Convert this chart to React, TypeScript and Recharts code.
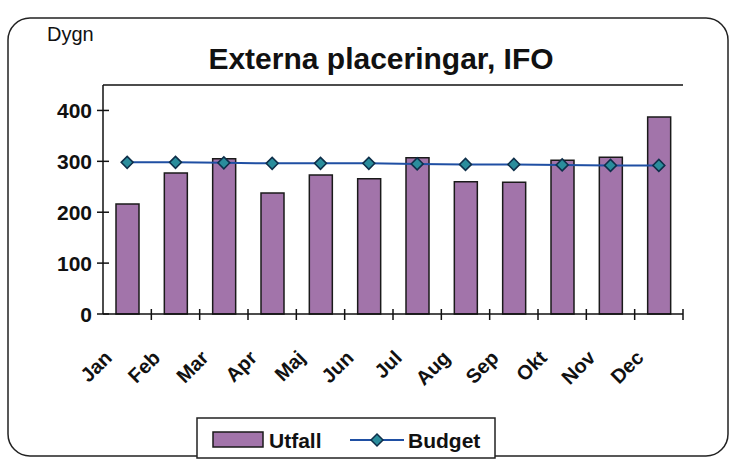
import {
  ComposedChart,
  Bar,
  Line,
  XAxis,
  YAxis,
  ReferenceLine,
} from 'recharts';

const months = ['Jan', 'Feb', 'Mar', 'Apr', 'Maj', 'Jun', 'Jul', 'Aug', 'Sep', 'Okt', 'Nov', 'Dec'];
const utfall = [216, 277, 305, 238, 273, 266, 307, 260, 259, 302, 308, 387];
const budget = [298, 298, 297, 296, 296, 296, 295, 294, 294, 293, 292, 292];
const yTicks = [0, 100, 200, 300, 400];

const data = months.map((month, i) => ({
  month,
  utfall: utfall[i],
  budget: budget[i],
}));

const FONT = '"Liberation Sans", Arial, sans-serif';
const WIDTH = 733;
const HEIGHT = 459;
const PLOT_LEFT = 103;
const PLOT_RIGHT = 50;
const HALF_BAND = (WIDTH - PLOT_LEFT - PLOT_RIGHT) / months.length / 2;

function MonthTick({ x, y, payload }: any) {
  return (
    <g>
      <line x1={x + HALF_BAND} x2={x + HALF_BAND} y1={y - 5} y2={y + 6} stroke="#111" strokeWidth={1.5} />
      <text
        x={0}
        y={0}
        transform={`translate(${x - 14},${y + 45}) rotate(-45)`}
        textAnchor="end"
        fontFamily={FONT}
        fontWeight="bold"
        fontSize={20}
        fill="#111"
      >
        {payload.value}
      </text>
    </g>
  );
}

function ValueTick({ x, y, payload }: any) {
  return (
    <g>
      <line x1={x - 6} x2={x + 6} y1={y} y2={y} stroke="#111" strokeWidth={1.5} />
      <text
        x={x - 11}
        y={y}
        dy="0.36em"
        textAnchor="end"
        fontFamily={FONT}
        fontWeight="bold"
        fontSize={21}
        fill="#111"
      >
        {payload.value}
      </text>
    </g>
  );
}

function Diamond({ cx, cy }: any) {
  const r = 6;
  return (
    <polygon
      points={`${cx},${cy - r} ${cx + r},${cy} ${cx},${cy + r} ${cx - r},${cy}`}
      fill="#2a8d9c"
      stroke="#0e2f4a"
      strokeWidth={1.5}
    />
  );
}

export default function App() {
  return (
    <div style={{ position: 'absolute', left: 0, top: 0, width: WIDTH, height: HEIGHT, background: '#fff' }}>
      <ComposedChart
        width={WIDTH}
        height={HEIGHT}
        data={data}
        margin={{ top: 85, right: PLOT_RIGHT, bottom: 0, left: 0 }}
      >
        <XAxis
          dataKey="month"
          interval={0}
          height={145}
          tickSize={0}
          tickMargin={0}
          tickLine={false}
          axisLine={{ stroke: '#111', strokeWidth: 1.5 }}
          tick={<MonthTick />}
        />
        <YAxis
          domain={[0, 450]}
          ticks={yTicks}
          width={PLOT_LEFT}
          tickSize={0}
          tickMargin={0}
          tickLine={false}
          axisLine={{ stroke: '#111', strokeWidth: 1.5 }}
          tick={<ValueTick />}
        />
        <YAxis
          yAxisId="frame"
          orientation="right"
          width={0}
          tick={false}
          tickLine={false}
          axisLine={{ stroke: '#111', strokeWidth: 1.5 }}
        />
        <ReferenceLine y={450} stroke="#111" strokeWidth={1.5} />
        <Bar
          dataKey="utfall"
          name="Utfall"
          barSize={23}
          fill="#a274aa"
          stroke="#1a1a1a"
          strokeWidth={1.5}
          isAnimationActive={false}
        />
        <Line
          dataKey="budget"
          name="Budget"
          stroke="#1f4fa3"
          strokeWidth={2}
          dot={<Diamond />}
          activeDot={false}
          isAnimationActive={false}
        />
      </ComposedChart>
      <svg
        width={WIDTH}
        height={HEIGHT}
        style={{ position: 'absolute', left: 0, top: 0, pointerEvents: 'none' }}
      >
        <rect x={8} y={18} width={720} height={438} rx={22} fill="none" stroke="#222" strokeWidth={1.5} />
        <text x={47} y={41} fontFamily={FONT} fontSize={20} fill="#111">
          Dygn
        </text>
        <text x={381} y={69} textAnchor="middle" fontFamily={FONT} fontWeight="bold" fontSize={30} fill="#111">
          Externa placeringar, IFO
        </text>
        <rect x={197} y={418} width={298} height={40} fill="#fff" stroke="#222" strokeWidth={1.5} />
        <rect x={213} y={432} width={50} height={15} fill="#a274aa" stroke="#1a1a1a" strokeWidth={1.5} />
        <text x={269} y={448} fontFamily={FONT} fontWeight="bold" fontSize={21} fill="#111">
          Utfall
        </text>
        <line x1={350} x2={404} y1={440} y2={440} stroke="#1f4fa3" strokeWidth={2} />
        <Diamond cx={377} cy={440} />
        <text x={408} y={448} fontFamily={FONT} fontWeight="bold" fontSize={21} fill="#111">
          Budget
        </text>
      </svg>
    </div>
  );
}
